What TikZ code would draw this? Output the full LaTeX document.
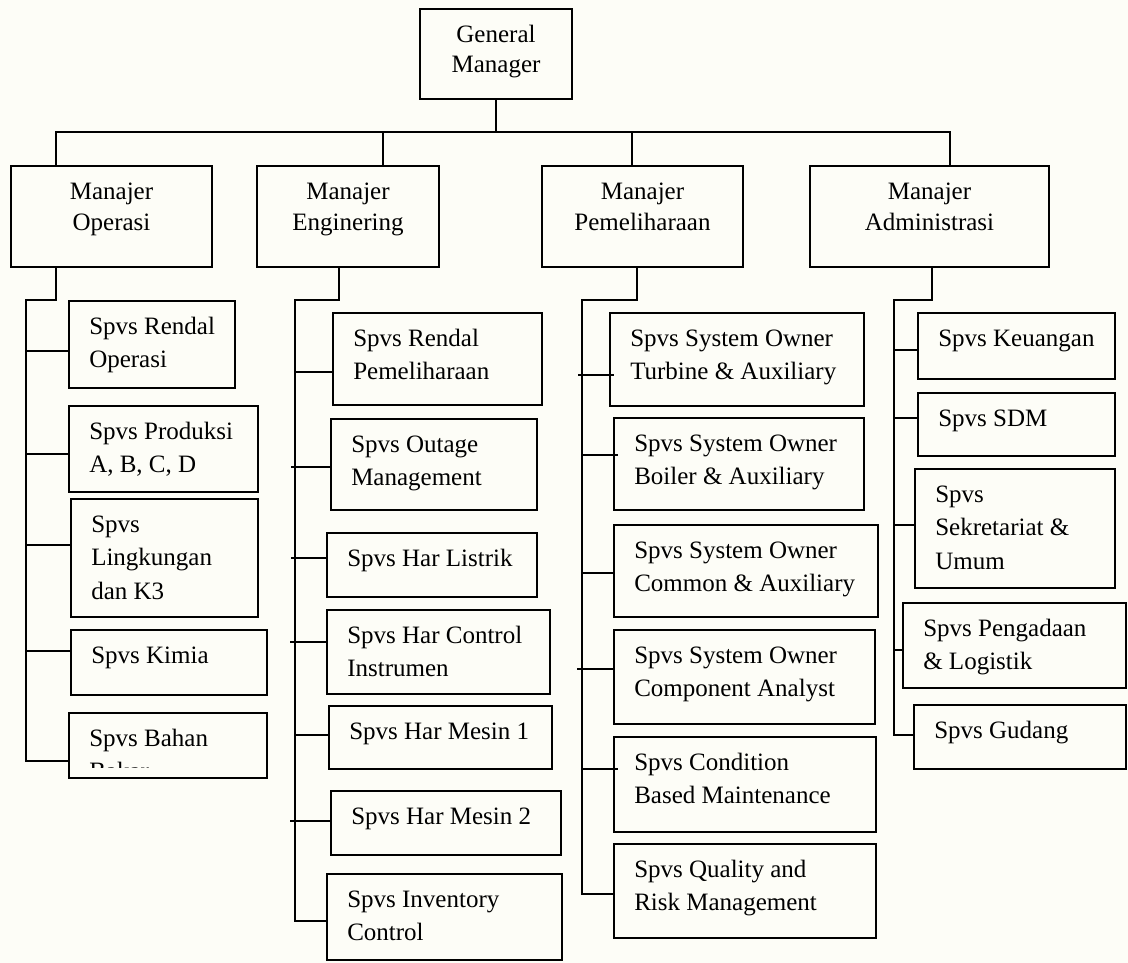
\documentclass[tikz,border=0pt]{standalone}
\usepackage{fontspec}
\setmainfont{Liberation Serif}
\definecolor{paper}{RGB}{253,253,247}
\tikzset{
  box/.style={draw, line width=1.5pt, anchor=north west, inner sep=0pt, outer sep=0pt},
  txt/.style={anchor=north west, inner sep=0pt, align=left, font=\fontsize{18.75pt}{25pt}\selectfont},
  mtxt/.style={anchor=north, inner sep=0pt, align=center, font=\fontsize{18.75pt}{23.5pt}\selectfont},
  link/.style={line width=1.5pt}
}
\begin{document}
\begin{tikzpicture}[x=0.75pt,y=0.75pt,yscale=-1,xscale=1]
        %uncomment if require: \path (0,963); %set diagram left start at 0, and has height of 963
        \fill[paper] (0,0) rectangle (1128,963);
        \useasboundingbox (0,0) rectangle (1128,963);

        %Shape: Rectangle [General Manager]
        \node[box, minimum width=114pt, minimum height=67.5pt] (gm) at (420,9) {};
        %Shape: Rectangle [Manajer]
        \node[box, minimum width=150.75pt, minimum height=75.75pt] (mo) at (11,166) {};
        \node[box, minimum width=136.5pt, minimum height=75.75pt] (me) at (257,166) {};
        \node[box, minimum width=150.75pt, minimum height=75.75pt] (mp) at (542,166) {};
        \node[box, minimum width=179.25pt, minimum height=75.75pt] (ma) at (810,166) {};

        %Shape: Rectangle [Operasi]
        \node[box, minimum width=124.5pt, minimum height=65.25pt] (ro) at (69,301) {};
        \node[box, minimum width=141.75pt, minimum height=64.5pt] (pr) at (69,406) {};
        \node[box, minimum width=140.25pt, minimum height=88.5pt] (li) at (71,499) {};
        \node[box, minimum width=147pt, minimum height=48.75pt] (ki) at (71,630) {};
        \node[box, minimum width=148.5pt, minimum height=48.75pt] (bb) at (69,713) {};

        %Shape: Rectangle [Enginering]
        \node[box, minimum width=156.75pt, minimum height=69pt] (rp) at (333,313) {};
        \node[box, minimum width=154.5pt, minimum height=68.25pt] (om) at (331,419) {};
        \node[box, minimum width=157.5pt, minimum height=48pt] (hl) at (327,533) {};
        \node[box, minimum width=167.25pt, minimum height=63pt] (hc) at (327,610) {};
        \node[box, minimum width=167.25pt, minimum height=47.25pt] (h1) at (329,706) {};
        \node[box, minimum width=172.5pt, minimum height=48pt] (h2) at (331,791) {};
        \node[box, minimum width=176.25pt, minimum height=64.5pt] (ic) at (327,874) {};

        %Shape: Rectangle [Pemeliharaan]
        \node[box, minimum width=190.5pt, minimum height=69.75pt] (tu) at (610,313) {};
        \node[box, minimum width=187.5pt, minimum height=69pt] (bo) at (614,418) {};
        \node[box, minimum width=198pt, minimum height=69pt] (co) at (614,525) {};
        \node[box, minimum width=195.75pt, minimum height=70.5pt] (ca) at (614,630) {};
        \node[box, minimum width=196.5pt, minimum height=71.25pt] (cb) at (614,737) {};
        \node[box, minimum width=196.5pt, minimum height=70.5pt] (qr) at (614,844) {};

        %Shape: Rectangle [Administrasi]
        \node[box, minimum width=147.75pt, minimum height=49.5pt] (ke) at (918,313) {};
        \node[box, minimum width=147.75pt, minimum height=47.25pt] (sd) at (918,393) {};
        \node[box, minimum width=150pt, minimum height=89.25pt] (sk) at (915,469) {};
        \node[box, minimum width=167.25pt, minimum height=63.75pt] (pl) at (903,603) {};
        \node[box, minimum width=159pt, minimum height=48pt] (gu) at (914,705) {};

        %Straight Lines [top level]
        \coordinate (bl) at (56,132);
        \coordinate (br) at (950,132);
        \coordinate (de) at (383,132);
        \coordinate (dp) at (632,132);
        \draw[link] (gm) -- (gm |- bl);
        \draw[link] (bl |- mo.north) -- (bl) -- (br) -- (br |- ma.north);
        \draw[link] (de) -- (de |- me.north);
        \draw[link] (dp) -- (dp |- mp.north);

        %Straight Lines [spines]
        \coordinate (kO) at (56,300);  \coordinate (spO) at (26,300);
        \coordinate (kE) at (339,300); \coordinate (spE) at (295,300);
        \coordinate (kP) at (637,300); \coordinate (spP) at (582,300);
        \coordinate (kA) at (932,300); \coordinate (spA) at (894,300);
        \draw[link] (kO |- mo.south) -- (kO) -- (spO) -- (spO |- 0,761) -- (bb.west |- 0,761);
        \draw[link] (kE |- me.south) -- (kE) -- (spE) -- (spE |- 0,921) -- (ic.west |- 0,921);
        \draw[link] (kP |- mp.south) -- (kP) -- (spP) -- (spP |- 0,894) -- (qr.west |- 0,894);
        \draw[link] (kA |- ma.south) -- (kA) -- (spA) -- (spA |- 0,735) -- (gu.west |- 0,735);

        %Straight Lines [branches]
        \draw[link] (spO |- 0,351) -- (ro.west |- 0,351);
        \draw[link] (spO |- 0,454) -- (pr.west |- 0,454);
        \draw[link] (spO |- 0,545) -- (li.west |- 0,545);
        \draw[link] (spO |- 0,651) -- (ki.west |- 0,651);
        \draw[link] (spE |- 0,372) -- (rp.west |- 0,372);
        \draw[link] (spE |- 0,467) +(-4,0) -- (om.west |- 0,467);
        \draw[link] (spE |- 0,558) +(-4,0) -- (hl.west |- 0,558);
        \draw[link] (spE |- 0,642) +(-5,0) -- (hc.west |- 0,642);
        \draw[link] (spE |- 0,735) -- (h1.west |- 0,735);
        \draw[link] (spE |- 0,821) +(-5,0) -- (h2.west |- 0,821);
        \draw[link] (spP |- 0,375) +(-4,0) -- (tu.west |- 0,375) -- +(4,0);
        \draw[link] (spP |- 0,455) -- (bo.west |- 0,455) -- +(4,0);
        \draw[link] (spP |- 0,573) -- (co.west |- 0,573);
        \draw[link] (spP |- 0,669) +(-5,0) -- (ca.west |- 0,669);
        \draw[link] (spP |- 0,769) -- (cb.west |- 0,769) -- +(4,0);
        \draw[link] (spA |- 0,350) -- (ke.west |- 0,350);
        \draw[link] (spA |- 0,418) -- (sd.west |- 0,418);
        \draw[link] (spA |- 0,525) -- (sk.west |- 0,525);
        \draw[link] (spA |- 0,650) -- (pl.west |- 0,650);

        % Text Node
        \node[mtxt, font=\fontsize{18.75pt}{22pt}\selectfont] (gmt) at ([shift={(0,13)}]gm.north) {\strut General\\Manager};
        % Text Node
        \node[mtxt] (mot) at ([shift={(0,11)}]mo.north) {\strut Manajer\\Operasi};
        \node[mtxt] (met) at ([shift={(0,11)}]me.north) {\strut Manajer\\Enginering};
        \node[mtxt] (mpt) at ([shift={(0,11)}]mp.north) {\strut Manajer\\Pemeliharaan};
        \node[mtxt] (mat) at ([shift={(0,11)}]ma.north) {\strut Manajer\\Administrasi};
        % Text Node
        \node[txt] (rot) at ([shift={(20,10)}]ro.north west) {\strut Spvs Rendal\\Operasi};
        \node[txt] (prt) at ([shift={(20,10)}]pr.north west) {\strut Spvs Produksi\\A, B, C, D};
        \node[txt] (lit) at ([shift={(20,10)}]li.north west) {\strut Spvs\\Lingkungan\\dan K3};
        \node[txt] (kit) at ([shift={(20,10)}]ki.north west) {\strut Spvs Kimia};
        \begin{scope}
          \clip (69,713) rectangle (267,767);
          \node[txt] (bbt) at ([shift={(20,10)}]bb.north west) {\strut Spvs Bahan\\Bakar};
        \end{scope}
        % Text Node
        \node[txt] (rpt) at ([shift={(20,10)}]rp.north west) {\strut Spvs Rendal\\Pemeliharaan};
        \node[txt] (omt) at ([shift={(20,10)}]om.north west) {\strut Spvs Outage\\Management};
        \node[txt] (hlt) at ([shift={(20,10)}]hl.north west) {\strut Spvs Har Listrik};
        \node[txt] (hct) at ([shift={(20,10)}]hc.north west) {\strut Spvs Har Control\\Instrumen};
        \node[txt] (h1t) at ([shift={(20,10)}]h1.north west) {\strut Spvs Har Mesin 1};
        \node[txt] (h2t) at ([shift={(20,10)}]h2.north west) {\strut Spvs Har Mesin 2};
        \node[txt] (ict) at ([shift={(20,10)}]ic.north west) {\strut Spvs Inventory\\Control};
        % Text Node
        \node[txt] (tut) at ([shift={(20,10)}]tu.north west) {\strut Spvs System Owner\\Turbine \& Auxiliary};
        \node[txt] (bot) at ([shift={(20,10)}]bo.north west) {\strut Spvs System Owner\\Boiler \& Auxiliary};
        \node[txt] (cot) at ([shift={(20,10)}]co.north west) {\strut Spvs System Owner\\Common \& Auxiliary};
        \node[txt] (cat) at ([shift={(20,10)}]ca.north west) {\strut Spvs System Owner\\Component Analyst};
        \node[txt] (cbt) at ([shift={(20,10)}]cb.north west) {\strut Spvs Condition\\Based Maintenance};
        \node[txt] (qrt) at ([shift={(20,10)}]qr.north west) {\strut Spvs Quality and\\Risk Management};
        % Text Node
        \node[txt] (ket) at ([shift={(20,10)}]ke.north west) {\strut Spvs Keuangan};
        \node[txt] (sdt) at ([shift={(20,10)}]sd.north west) {\strut Spvs SDM};
        \node[txt] (skt) at ([shift={(20,10)}]sk.north west) {\strut Spvs\\Sekretariat \&\\Umum};
        \node[txt] (plt) at ([shift={(20,10)}]pl.north west) {\strut Spvs Pengadaan\\\& Logistik};
        \node[txt] (gut) at ([shift={(20,10)}]gu.north west) {\strut Spvs Gudang};
\end{tikzpicture}
\end{document}
